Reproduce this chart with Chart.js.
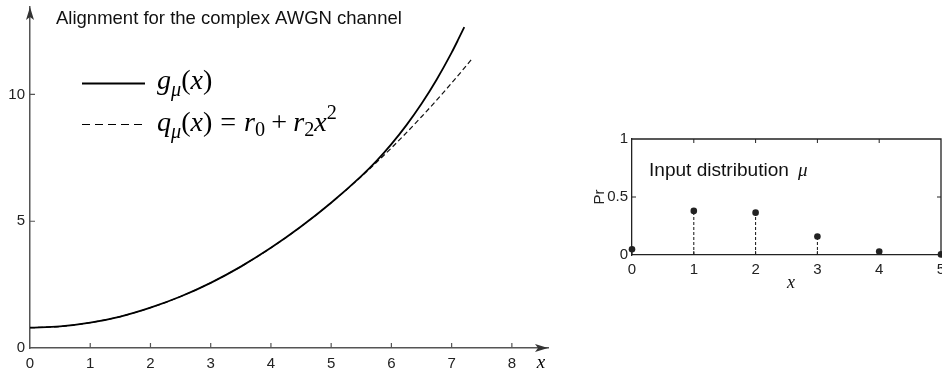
<!DOCTYPE html>
<html><head><meta charset="utf-8">
<script src="https://cdn.jsdelivr.net/npm/chart.js@4.4.1/dist/chart.umd.min.js"></script>
<style>
html,body{margin:0;padding:0;background:#fff;}
#wrap{position:relative;width:942px;height:371px;overflow:hidden;background:#fff;}
canvas{position:absolute;}
</style></head><body>
<div id="wrap">
<canvas id="c1" width="560" height="371" style="left:0;top:0;width:560px;height:371px"></canvas>
<canvas id="c2" width="357" height="170" style="left:585px;top:125px;width:357px;height:170px"></canvas>
</div>
<script>
// ---- data ----
const gX = [0, 0.5, 1, 1.5, 2, 2.5, 3, 3.5, 4, 4.5, 5, 5.5, 5.75, 6, 6.25, 6.5, 6.75, 7, 7.1, 7.21];
const gY = [0.80, 0.85, 1.00, 1.24, 1.59, 2.03, 2.57, 3.21, 3.95, 4.79, 5.73, 6.78, 7.37, 8.04, 8.79, 9.63, 10.58, 11.65, 12.12, 12.66];
const qX = [0, 0.5, 1, 1.5, 2, 2.5, 3, 3.5, 4, 4.5, 5, 5.5, 6, 6.5, 7, 7.33];
const qY = [0.80, 0.85, 1.00, 1.24, 1.59, 2.03, 2.57, 3.21, 3.95, 4.79, 5.73, 6.76, 7.89, 9.12, 10.45, 11.38];
const leftXTicks = [0, 1, 2, 3, 4, 5, 6, 7, 8];
const leftYTicks = [0, 5, 10];

const muX = [0, 1, 2, 3, 4, 5];
const muY = [0.05, 0.38, 0.365, 0.16, 0.03, 0.005];
const rightXTicks = [0, 1, 2, 3, 4, 5];
const rightYTicks = [0, 0.5, 1];

const leftTitle = 'Alignment for the complex AWGN channel';
const rightTitle = 'Input distribution';
const rightYLabel = 'Pr';

// ---- styling ----
const SANS = '"Liberation Sans", Arial, Helvetica, sans-serif';
const SERIF = '"Liberation Serif", "Times New Roman", serif';
const AX = '#555';
const TXT = '#222';
const tickFont = {family: SANS, size: 15};

const zip = (xs, ys) => xs.map((x, i) => ({x: x, y: ys[i]}));

function arrow(ctx, x, y, dx, dy) {
  const L = 13, W = 4, N = 10;
  const px = -dy, py = dx;
  ctx.beginPath();
  ctx.moveTo(x, y);
  ctx.lineTo(x - dx * L + px * W, y - dy * L + py * W);
  ctx.lineTo(x - dx * N, y - dy * N);
  ctx.lineTo(x - dx * L - px * W, y - dy * L - py * W);
  ctx.closePath();
  ctx.fill();
}

// math run: parts [text, kind]; kinds: i italic, r roman, si sub italic, sr sub roman, pr sup roman, sp space(em)
function mathWidth(ctx, parts, s) { return drawMath(ctx, 0, 0, parts, s, true); }
function drawMath(ctx, x, y, parts, s, measureOnly) {
  let cx = x;
  for (const [t, k] of parts) {
    if (k === 'sp') { cx += t * s; continue; }
    let size = s, dy = 0, it = false;
    if (k === 'i') it = true;
    if (k === 'si') { it = true; size = s * 0.72; dy = s * 0.24; }
    if (k === 'sr') { size = s * 0.72; dy = s * 0.18; }
    if (k === 'pr') { size = s * 0.72; dy = -s * 0.42; }
    ctx.font = (it ? 'italic ' : '') + size + 'px ' + SERIF;
    if (!measureOnly) ctx.fillText(t, cx, y + dy);
    cx += ctx.measureText(t).width;
  }
  return cx - x;
}

const row1 = [['g','i'],['μ','si'],['(','r'],['x','i'],[')','r']];
const row2 = [['q','i'],['μ','si'],['(','r'],['x','i'],[')','r'],[0.28,'sp'],['=','r'],[0.28,'sp'],['r','i'],['0','sr'],[0.22,'sp'],['+','r'],[0.22,'sp'],['r','i'],['2','sr'],['x','i'],['2','pr']];

const leftDeco = {
  id: 'leftDeco',
  afterDraw(chart) {
    const ctx = chart.ctx, a = chart.chartArea;
    const xs = chart.scales.x, ys = chart.scales.y;
    ctx.save();
    ctx.strokeStyle = AX; ctx.fillStyle = AX; ctx.lineWidth = 1.2;
    ctx.beginPath();
    leftXTicks.filter(v => v > 0).forEach(v => { const p = xs.getPixelForValue(v); ctx.moveTo(p, a.bottom); ctx.lineTo(p, a.bottom - 5); });
    leftYTicks.filter(v => v > 0).forEach(v => { const p = ys.getPixelForValue(v); ctx.moveTo(a.left, p); ctx.lineTo(a.left + 5, p); });
    ctx.stroke();
    ctx.fillStyle = '#333';
    arrow(ctx, a.left, a.top, 0, -1);
    arrow(ctx, a.right, a.bottom, 1, 0);

    // title
    ctx.fillStyle = '#111';
    ctx.textBaseline = 'alphabetic'; ctx.textAlign = 'left';
    ctx.font = '100px ' + SANS;
    const tsz = 100 * 346 / ctx.measureText(leftTitle).width;
    ctx.font = tsz + 'px ' + SANS;
    ctx.fillText(leftTitle, 56, 24);

    // legend
    ctx.strokeStyle = '#000';
    ctx.lineWidth = 1.8; ctx.setLineDash([]);
    ctx.beginPath(); ctx.moveTo(82, 83.5); ctx.lineTo(145, 83.5); ctx.stroke();
    ctx.lineWidth = 1.1; ctx.setLineDash([8, 5]);
    ctx.beginPath(); ctx.moveTo(82, 124.5); ctx.lineTo(145, 124.5); ctx.stroke();
    ctx.setLineDash([]);
    const ms = 100 * 180 / mathWidth(ctx, row2, 100);
    ctx.fillStyle = '#000';
    drawMath(ctx, 157, 89, row1, ms);
    drawMath(ctx, 157, 131, row2, ms);

    // axis label x
    ctx.font = 'italic 19px ' + SERIF;
    ctx.textAlign = 'center'; ctx.textBaseline = 'middle';
    ctx.fillText('x', 541, 363);
    ctx.restore();
  }
};

new Chart(document.getElementById('c1'), {
  type: 'line',
  data: {datasets: [
    {label: 'g', data: zip(gX, gY), borderColor: '#000', borderWidth: 1.8, pointRadius: 0, cubicInterpolationMode: 'monotone', fill: false},
    {label: 'q', data: zip(qX, qY), borderColor: '#111', borderWidth: 1.2, borderDash: [5, 3], pointRadius: 0, cubicInterpolationMode: 'monotone', fill: false}
  ]},
  options: {
    responsive: false, animation: false, devicePixelRatio: 1,
    layout: {autoPadding: false, padding: {top: 7, right: 12, left: 0, bottom: 0}},
    plugins: {legend: {display: false}, tooltip: {enabled: false}, title: {display: false}},
    scales: {
      x: {
        type: 'linear', min: 0, max: 8.6,
        afterBuildTicks: s => { s.ticks = leftXTicks.map(v => ({value: v})); },
        afterFit: s => { s.height = 23; s.paddingLeft = 0; s.paddingRight = 0; },
        ticks: {font: tickFont, color: TXT, padding: 7, maxRotation: 0, autoSkip: false, callback: v => String(v)},
        grid: {display: false, drawTicks: false},
        border: {display: true, color: AX, width: 1.5}
      },
      y: {
        type: 'linear', min: 0, max: 13.45,
        afterBuildTicks: s => { s.ticks = leftYTicks.map(v => ({value: v})); },
        afterFit: s => { s.width = 30; s.paddingTop = 0; s.paddingBottom = 0; },
        ticks: {font: tickFont, color: TXT, padding: 5, autoSkip: false, callback: v => String(v)},
        grid: {display: false, drawTicks: false},
        border: {display: true, color: AX, width: 1.5}
      }
    }
  },
  plugins: [leftDeco]
});

const rightDeco = {
  id: 'rightDeco',
  afterDraw(chart) {
    const ctx = chart.ctx, a = chart.chartArea;
    const xs = chart.scales.x, ys = chart.scales.y;
    ctx.save();
    ctx.strokeStyle = '#222'; ctx.lineWidth = 1.3;
    ctx.beginPath();
    ctx.moveTo(a.left, a.top); ctx.lineTo(a.right, a.top); ctx.lineTo(a.right, a.bottom);
    ctx.stroke();
    ctx.lineWidth = 1;
    ctx.beginPath();
    rightXTicks.filter(v => v > 0 && v < 5).forEach(v => {
      const p = xs.getPixelForValue(v);
      ctx.moveTo(p, a.bottom); ctx.lineTo(p, a.bottom - 4);
      ctx.moveTo(p, a.top); ctx.lineTo(p, a.top + 4);
    });
    rightYTicks.filter(v => v > 0 && v < 1).forEach(v => {
      const p = ys.getPixelForValue(v);
      ctx.moveTo(a.left, p); ctx.lineTo(a.left + 4, p);
      ctx.moveTo(a.right, p); ctx.lineTo(a.right - 4, p);
    });
    ctx.stroke();

    ctx.fillStyle = '#111'; ctx.textAlign = 'left'; ctx.textBaseline = 'alphabetic';
    ctx.font = '100px ' + SANS;
    const tsz = 100 * 140 / ctx.measureText(rightTitle).width;
    ctx.font = tsz + 'px ' + SANS;
    ctx.fillText(rightTitle, 64, 51);
    ctx.font = 'italic ' + tsz + 'px ' + SERIF;
    ctx.fillText('μ', 213, 51);

    ctx.font = 'italic 18px ' + SERIF;
    ctx.textAlign = 'center'; ctx.textBaseline = 'middle';
    ctx.fillText('x', 206, 158);
    ctx.restore();
  }
};

const stems = muX.map((x, i) => ({
  data: [{x: x, y: 0}, {x: x, y: muY[i]}],
  borderColor: '#111', borderWidth: 1, borderDash: [3, 2], pointRadius: 0, fill: false
}));

new Chart(document.getElementById('c2'), {
  type: 'line',
  data: {datasets: [
    {data: zip(muX, muY), showLine: false, pointRadius: 3.3, pointBackgroundColor: '#222', pointBorderWidth: 0, pointBorderColor: '#222', clip: false}
  ].concat(stems)},
  options: {
    responsive: false, animation: false, devicePixelRatio: 1,
    layout: {autoPadding: false, padding: {top: 14, right: 1, left: 0, bottom: 0}},
    plugins: {legend: {display: false}, tooltip: {enabled: false}, title: {display: false}},
    scales: {
      x: {
        type: 'linear', min: 0, max: 5,
        afterBuildTicks: s => { s.ticks = rightXTicks.map(v => ({value: v})); },
        afterFit: s => { s.height = 40; s.paddingLeft = 0; s.paddingRight = 0; },
        ticks: {font: tickFont, color: TXT, padding: 6, maxRotation: 0, autoSkip: false, callback: v => String(v)},
        grid: {display: false, drawTicks: false},
        border: {display: true, color: '#222', width: 1.3}
      },
      y: {
        type: 'linear', min: 0, max: 1,
        afterBuildTicks: s => { s.ticks = rightYTicks.map(v => ({value: v})); },
        afterFit: s => { s.width = 47; s.paddingTop = 0; s.paddingBottom = 0; },
        ticks: {font: tickFont, color: TXT, padding: 4, autoSkip: false, callback: v => String(v)},
        title: {display: true, text: rightYLabel, font: {family: SANS, size: 15}, color: TXT, padding: {top: 6, bottom: 0}},
        grid: {display: false, drawTicks: false},
        border: {display: true, color: '#222', width: 1.3}
      }
    }
  },
  plugins: [rightDeco]
});
</script>
</body></html>
